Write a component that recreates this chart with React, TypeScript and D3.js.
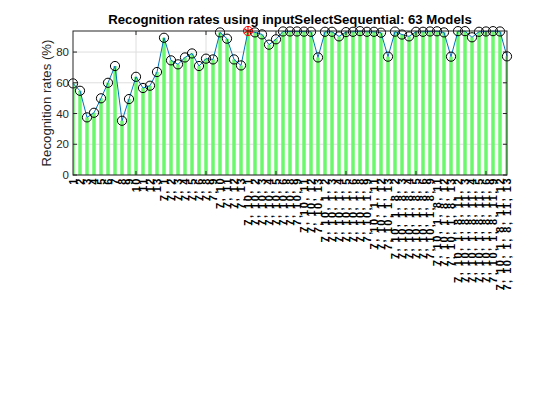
import React from 'react'
import * as d3 from 'd3'

// recognition rate (%) per model, grouped by selection stage
const stage1Rates = [59.6, 54.8, 37.5, 40.5, 49.9, 60.0, 70.9, 35.3, 49.4, 63.9, 56.6, 58.1, 67.0]
const stage2Rates = [89.3, 74.6, 72.0, 76.5, 79.1, 70.9, 75.7, 75.2, 92.8, 88.7, 75.2, 71.3]
const stage3Rates = [93.7, 92.8, 91.5, 84.8, 88.3, 93.4, 93.4, 93.4, 93.3, 93.2, 76.5]
const stage4Rates = [93.2, 93.2, 90.2, 93.0, 93.2, 93.6, 93.2, 93.2, 92.6, 77.0]
const stage5Rates = [93.3, 91.4, 90.2, 93.2, 93.2, 93.4, 93.5, 92.8, 77.0]
const stage6Rates = [93.6, 93.6, 89.6, 93.2, 93.4, 93.6, 93.4, 77.2]

const stage1Labels = ['1', '2', '3', '4', '5', '6', '7', '8', '9', '10', '11', '12', '13']
const stage2Labels = ['7, 1', '7, 2', '7, 3', '7, 4', '7, 5', '7, 6', '7, 8', '7, 9', '7, 10', '7, 11', '7, 12', '7, 13']
const stage3Labels = ['7, 10, 1', '7, 10, 2', '7, 10, 3', '7, 10, 4', '7, 10, 5', '7, 10, 6', '7, 10, 8', '7, 10, 9', '7, 10, 11', '7, 10, 12', '7, 10, 13']
const stage4Labels = ['7, 10, 1, 2', '7, 10, 1, 3', '7, 10, 1, 4', '7, 10, 1, 5', '7, 10, 1, 6', '7, 10, 1, 8', '7, 10, 1, 9', '7, 10, 1, 11', '7, 10, 1, 12', '7, 10, 1, 13']
const stage5Labels = ['7, 10, 1, 8, 2', '7, 10, 1, 8, 3', '7, 10, 1, 8, 4', '7, 10, 1, 8, 5', '7, 10, 1, 8, 6', '7, 10, 1, 8, 9', '7, 10, 1, 8, 11', '7, 10, 1, 8, 12', '7, 10, 1, 8, 13']
const stage6Labels = ['7, 10, 1, 8, 11, 2', '7, 10, 1, 8, 11, 3', '7, 10, 1, 8, 11, 4', '7, 10, 1, 8, 11, 5', '7, 10, 1, 8, 11, 6', '7, 10, 1, 8, 11, 9', '7, 10, 1, 8, 11, 12', '7, 10, 1, 8, 11, 13']

const yTicks = [0, 20, 40, 60, 80]
const xGridTicks = [10, 20, 30, 40, 50, 60]

const rates = [...stage1Rates, ...stage2Rates, ...stage3Rates, ...stage4Rates, ...stage5Rates, ...stage6Rates]
const labels = [...stage1Labels, ...stage2Labels, ...stage3Labels, ...stage4Labels, ...stage5Labels, ...stage6Labels]

const width = 560
const height = 420
const margin = { top: 31, right: 53, bottom: 245, left: 73 }
const font = '"Liberation Sans", Arial, sans-serif'
const axisColor = '#262626'

export default function App() {
  const innerW = width - margin.left - margin.right
  const innerH = height - margin.top - margin.bottom
  const maxRate = d3.max(rates) || 0
  const best = rates.indexOf(maxRate)

  const x = d3.scaleLinear().domain([1, rates.length]).range([0, innerW])
  const y = d3.scaleLinear().domain([0, maxRate]).range([innerH, 0])

  const line = d3
    .line<number>()
    .x((_, i) => x(i + 1))
    .y(d => y(d))

  const star = d3.symbol().type(d3.symbolAsterisk).size(60)()

  return (
    <svg
      width={width}
      height={height}
      style={{ position: 'absolute', left: 0, top: 0, background: '#fff' }}
      fontFamily={font}
    >
      <defs>
        <clipPath id="plot-clip">
          <rect x={0} y={0} width={innerW} height={innerH} />
        </clipPath>
      </defs>
      <rect width={width} height={height} fill="#fff" />
      <text
        x={margin.left + innerW / 2}
        y={24}
        textAnchor="middle"
        fontSize={13.2}
        fontWeight="bold"
        fill="#000"
      >
        Recognition rates using inputSelectSequential: 63 Models
      </text>
      <g transform={`translate(${margin.left},${margin.top})`}>
        {/* grid */}
        {yTicks.map(t => (
          <line key={'gy' + t} x1={0} x2={innerW} y1={y(t)} y2={y(t)} stroke="#dedede" strokeWidth={1} />
        ))}
        {xGridTicks.map(t => (
          <line key={'gx' + t} x1={x(t)} x2={x(t)} y1={0} y2={innerH} stroke="#dedede" strokeWidth={1} />
        ))}
        {/* bars */}
        <g clipPath="url(#plot-clip)">
          {rates.map((d, i) => (
            <rect
              key={'b' + i}
              x={x(i + 1) - 1.75}
              y={y(d)}
              width={3.5}
              height={innerH - y(d)}
              fill="#6cf86c"
            />
          ))}
        </g>
        <path d={line(rates) || ''} fill="none" stroke="#0072BD" strokeWidth={1} />
        {rates.map((d, i) =>
          i === best ? null : (
            <circle key={'m' + i} cx={x(i + 1)} cy={y(d)} r={4.6} fill="none" stroke="#000" strokeWidth={1} />
          ),
        )}
        <circle cx={x(best + 1)} cy={y(maxRate)} r={4.6} fill="none" stroke="#ff0000" strokeWidth={1} />
        <path d={star || ''} transform={`translate(${x(best + 1)},${y(maxRate)})`} fill="none" stroke="#ff0000" strokeWidth={1.2} />
        {/* axes box */}
        <rect x={0} y={0} width={innerW} height={innerH} fill="none" stroke={axisColor} strokeWidth={1} />
        {yTicks.map(t => (
          <g key={'ty' + t}>
            <line x1={0} x2={4} y1={y(t)} y2={y(t)} stroke={axisColor} />
            <line x1={innerW - 4} x2={innerW} y1={y(t)} y2={y(t)} stroke={axisColor} />
            <text x={-4} y={y(t)} dy="0.35em" textAnchor="end" fontSize={11.5} fill={axisColor}>
              {t}
            </text>
          </g>
        ))}
        {xGridTicks.map(t => (
          <g key={'tx' + t}>
            <line x1={x(t)} x2={x(t)} y1={innerH} y2={innerH - 4} stroke={axisColor} />
            <line x1={x(t)} x2={x(t)} y1={0} y2={4} stroke={axisColor} />
          </g>
        ))}
        {labels.map((l, i) => (
          <text
            key={'l' + i}
            transform={`translate(${x(i + 1)},${innerH + 2}) rotate(-90)`}
            textAnchor="end"
            dy="0.36em"
            fontSize={11}
            fontWeight="bold"
            letterSpacing={1.5}
            fill="#000"
          >
            {l}
          </text>
        ))}
        <text
          transform={`translate(${-22},${innerH / 2}) rotate(-90)`}
          textAnchor="middle"
          fontSize={13.2}
          fill={axisColor}
        >
          Recognition rates (%)
        </text>
      </g>
    </svg>
  )
}
